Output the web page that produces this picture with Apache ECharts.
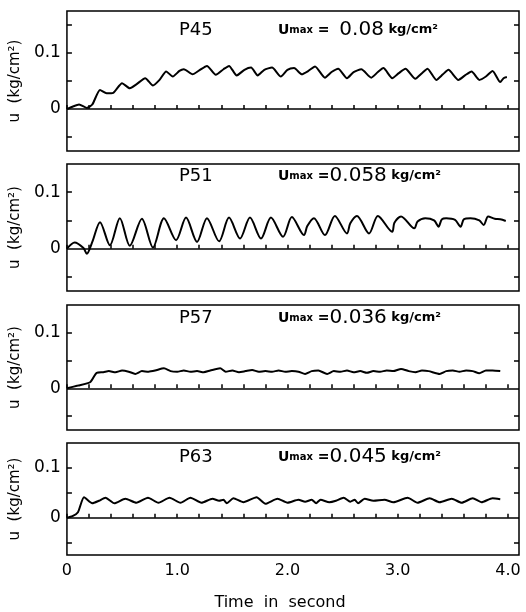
<!DOCTYPE html>
<html>
<head>
<meta charset="utf-8">
<script src="https://cdn.jsdelivr.net/npm/echarts@6/dist/echarts.min.js"></script>
<style>
  html, body { margin: 0; padding: 0; background: #fff; }
  #main { width: 526px; height: 612px; }
</style>
</head>
<body>
<div id="main"></div>
<script>
// 数据：时间(s)、孔隙水压 u (kg/cm2)
var panelNames = ['P45', 'P51', 'P57', 'P63'];
var umaxValues = ['0.08', '0.058', '0.036', '0.045'];
var xTickValues = [0, 0.2, 0.4, 0.6, 0.8, 1.0, 1.2, 1.4, 1.6, 1.8, 2.0, 2.2, 2.4, 2.6, 2.8, 3.0, 3.2, 3.4, 3.6, 3.8, 4.0];
var xLabelValues = [0, 1, 2, 3, 4];
var xTickLabels = ['0', '1.0', '2.0', '3.0', '4.0'];
var yLabelValues = [0, 0.1];
var yTickLabels = ['0', '0.1'];

var p45 = [
  [0, 0], [0.05, 0.004], [0.11, 0.008], [0.18, 0.002], [0.23, 0.008], [0.30, 0.034], [0.36, 0.028],
  [0.42, 0.029], [0.50, 0.046], [0.57, 0.037], [0.63, 0.044], [0.71, 0.055], [0.78, 0.042], [0.84, 0.052],
  [0.90, 0.067], [0.96, 0.058], [1.02, 0.068], [1.06, 0.071], [1.14, 0.062], [1.20, 0.069], [1.27, 0.077],
  [1.35, 0.061], [1.42, 0.071], [1.47, 0.077], [1.54, 0.060], [1.61, 0.070], [1.67, 0.074], [1.73, 0.060],
  [1.79, 0.070], [1.86, 0.074], [1.94, 0.058], [2.00, 0.070], [2.06, 0.073], [2.13, 0.062], [2.19, 0.068],
  [2.25, 0.076], [2.34, 0.056], [2.40, 0.066], [2.46, 0.072], [2.54, 0.055], [2.60, 0.066], [2.67, 0.071],
  [2.76, 0.056], [2.82, 0.066], [2.87, 0.073], [2.95, 0.055], [3.01, 0.064], [3.07, 0.072], [3.16, 0.054],
  [3.22, 0.064], [3.27, 0.072], [3.35, 0.052], [3.41, 0.062], [3.46, 0.070], [3.55, 0.052], [3.61, 0.060],
  [3.67, 0.067], [3.74, 0.052], [3.80, 0.058], [3.86, 0.068], [3.93, 0.048], [3.96, 0.055], [3.99, 0.057]
];

var p51 = [
  [0, 0], [0.07, 0.011], [0.15, 0.001], [0.18, -0.009], [0.23, 0.012], [0.30, 0.047], [0.39, 0.006],
  [0.48, 0.054], [0.57, 0.005], [0.68, 0.053], [0.78, 0.002], [0.88, 0.054], [0.99, 0.015], [1.08, 0.055],
  [1.18, 0.012], [1.27, 0.054], [1.38, 0.013], [1.47, 0.055], [1.57, 0.018], [1.66, 0.055], [1.76, 0.018],
  [1.85, 0.055], [1.96, 0.021], [2.04, 0.056], [2.15, 0.024], [2.18, 0.040], [2.24, 0.054], [2.34, 0.024],
  [2.43, 0.058], [2.54, 0.027], [2.57, 0.045], [2.63, 0.058], [2.74, 0.027], [2.82, 0.058], [2.95, 0.030],
  [2.97, 0.046], [3.03, 0.057], [3.15, 0.036], [3.18, 0.048], [3.25, 0.054], [3.33, 0.050], [3.37, 0.039],
  [3.40, 0.052], [3.44, 0.054], [3.52, 0.051], [3.57, 0.039], [3.60, 0.052], [3.66, 0.054], [3.74, 0.050],
  [3.78, 0.042], [3.82, 0.057], [3.88, 0.053], [3.93, 0.052], [3.98, 0.049]
];

var p57 = [
  [0, 0], [0.10, 0.005], [0.21, 0.011], [0.27, 0.028], [0.33, 0.029], [0.38, 0.031], [0.44, 0.029],
  [0.50, 0.032], [0.56, 0.030], [0.62, 0.026], [0.68, 0.031], [0.74, 0.030], [0.80, 0.032], [0.88, 0.036],
  [0.94, 0.031], [1.00, 0.030], [1.06, 0.032], [1.12, 0.030], [1.18, 0.031], [1.24, 0.029], [1.30, 0.032],
  [1.39, 0.036], [1.44, 0.030], [1.50, 0.032], [1.56, 0.029], [1.62, 0.031], [1.68, 0.033], [1.74, 0.030],
  [1.80, 0.031], [1.86, 0.030], [1.92, 0.032], [1.98, 0.030], [2.04, 0.031], [2.10, 0.030], [2.16, 0.026],
  [2.22, 0.031], [2.28, 0.032], [2.36, 0.026], [2.42, 0.031], [2.48, 0.030], [2.54, 0.032], [2.60, 0.029],
  [2.66, 0.031], [2.72, 0.028], [2.78, 0.031], [2.84, 0.030], [2.90, 0.032], [2.96, 0.031], [3.03, 0.035],
  [3.10, 0.031], [3.16, 0.029], [3.22, 0.032], [3.28, 0.031], [3.38, 0.026], [3.44, 0.031], [3.50, 0.032],
  [3.56, 0.030], [3.62, 0.032], [3.68, 0.031], [3.74, 0.027], [3.80, 0.032], [3.86, 0.032], [3.93, 0.031]
];

var p63 = [
  [0, 0], [0.05, 0.003], [0.10, 0.011], [0.155, 0.041], [0.23, 0.029], [0.29, 0.034], [0.35, 0.040],
  [0.43, 0.029], [0.53, 0.038], [0.63, 0.030], [0.735, 0.040], [0.83, 0.030], [0.93, 0.040], [1.03, 0.030],
  [1.12, 0.040], [1.22, 0.030], [1.32, 0.038], [1.38, 0.034], [1.42, 0.036], [1.45, 0.029], [1.51, 0.039],
  [1.60, 0.031], [1.72, 0.041], [1.80, 0.028], [1.91, 0.038], [2.00, 0.030], [2.10, 0.036], [2.16, 0.032],
  [2.22, 0.036], [2.26, 0.029], [2.30, 0.036], [2.38, 0.031], [2.44, 0.034], [2.51, 0.040], [2.57, 0.032],
  [2.61, 0.036], [2.64, 0.029], [2.70, 0.038], [2.78, 0.034], [2.88, 0.036], [2.96, 0.031], [3.09, 0.040],
  [3.18, 0.030], [3.29, 0.039], [3.38, 0.031], [3.49, 0.038], [3.58, 0.030], [3.68, 0.039], [3.76, 0.031],
  [3.86, 0.039], [3.93, 0.037]
];

var seriesData = [p45, p51, p57, p63];
var panelTops = [11, 164, 305, 443];
var panelHeights = [140, 127, 125, 123];
var labelTops = [21, 167, 309, 448];
var yMaxValues = [0.175, 0.15, 0.15, 0.15];
var yTickValues = [[-0.05, 0.05, 0.1, 0.15], [-0.05, 0.05, 0.1], [-0.05, 0.05, 0.1], [-0.05, 0.05, 0.1]];

var myChart = echarts.init(document.getElementById('main'));

var font = 'DejaVu Sans';
var grids = [], xAxes = [], yAxes = [], series = [], titles = [];

for (var i = 0; i < 4; i++) {
  var last = i === 3;
  grids.push({
    left: 61, right: 7, top: panelTops[i], height: panelHeights[i],
    show: true, borderColor: '#000', borderWidth: 1.5, backgroundColor: 'transparent'
  });
  xAxes.push({
    type: 'value', gridIndex: i, min: 0, max: 4.1,
    axisLine: { show: false },
    splitLine: { show: false },
    axisTick: { show: true, inside: true, length: 4, customValues: xTickValues, lineStyle: { color: '#000', width: 1.5 } },
    axisLabel: {
      show: last, customValues: xLabelValues, color: '#000', fontFamily: font, fontSize: 16, margin: 8,
      formatter: function (v) { return xTickLabels[xLabelValues.indexOf(Math.round(v))]; }
    },
    name: last ? 'Time  in  second' : '',
    nameLocation: 'middle', nameGap: 40,
    nameTextStyle: { color: '#000', fontFamily: font, fontSize: 16, padding: [0, 26, 0, 0] }
  });
  yAxes.push({
    type: 'value', gridIndex: i, min: -0.075, max: yMaxValues[i], position: 'left',
    axisLine: { show: false },
    splitLine: { show: false },
    axisTick: { show: true, inside: true, length: 5, customValues: yTickValues[i], lineStyle: { color: '#000', width: 1.5 } },
    axisLabel: {
      customValues: yLabelValues, color: '#000', fontFamily: font, fontSize: 17, margin: 6,
      formatter: function (v) { return yTickLabels[yLabelValues.indexOf(Math.round(v * 10) / 10)]; }
    },
    name: 'u  (kg/cm²)', nameLocation: 'middle', nameGap: 33,
    nameTextStyle: { color: '#000', fontFamily: font, fontSize: 15 }
  });
  yAxes.push({
    type: 'value', gridIndex: i, min: -0.075, max: yMaxValues[i], position: 'right',
    axisLine: { show: false },
    splitLine: { show: false },
    axisTick: { show: true, inside: true, length: 5, customValues: yTickValues[i], lineStyle: { color: '#000', width: 1.5 } },
    axisLabel: { show: false }
  });
  series.push({
    type: 'line', xAxisIndex: i, yAxisIndex: i * 2,
    data: seriesData[i], showSymbol: false, smooth: i === 1 ? 0.3 : 0.2,
    lineStyle: { color: '#000', width: 2 },
    silent: true,
    markLine: {
      silent: true, symbol: 'none', label: { show: false },
      lineStyle: { color: '#000', width: 1.5, type: 'solid' },
      data: [{ yAxis: 0 }]
    }
  });
  titles.push({
    text: panelNames[i], left: 179, top: labelTops[i], padding: 0,
    textStyle: { color: '#000', fontFamily: font, fontSize: 18, fontWeight: 'normal' }
  });
  titles.push({
    text: '{u|U}{m|max}{e| =' + (i === 0 ? '  ' : '') + '}{n|' + umaxValues[i] + '}{k| kg/cm²}',
    left: 278, top: labelTops[i] - 1, padding: 0,
    textStyle: {
      fontWeight: 'normal',
      rich: {
        u: { color: '#000', fontFamily: font, fontSize: 14, fontWeight: 'bold' },
        m: { color: '#000', fontFamily: font, fontSize: 10, fontWeight: 'bold' },
        e: { color: '#000', fontFamily: font, fontSize: 14, fontWeight: 'bold' },
        n: { color: '#000', fontFamily: font, fontSize: 20, fontWeight: 'normal' },
        k: { color: '#000', fontFamily: font, fontSize: 13, fontWeight: 'bold' }
      }
    }
  });
}

var option = {
  backgroundColor: '#fff',
  animation: false,
  title: titles,
  grid: grids,
  xAxis: xAxes,
  yAxis: yAxes,
  series: series
};

myChart.setOption(option);
</script>
</body>
</html>
